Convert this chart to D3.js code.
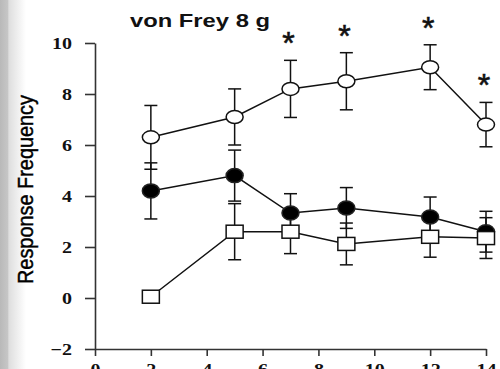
<!DOCTYPE html>
<html>
<head>
<meta charset="utf-8">
<script src="https://cdn.jsdelivr.net/npm/d3@7"></script>
<style>
  html, body { margin: 0; padding: 0; background: #fff; }
  svg { display: block; }
</style>
</head>
<body>
<svg id="chart" width="500" height="369"></svg>
<script>
// Days after treatment (x positions of the measurements)
const days = [2, 5, 7, 9, 12, 14];

// Open circles
const openMean = [6.3, 7.1, 8.2, 8.5, 9.05, 6.8];
const openErr  = [1.25, 1.1, 1.12, 1.12, 0.88, 0.87];

// Filled circles
const filledMean = [4.2, 4.8, 3.33, 3.53, 3.18, 2.6];
const filledErr  = [1.1, 1.0, 0.76, 0.8, 0.78, 0.8];

// Open squares
const squareMean = [0.05, 2.6, 2.6, 2.12, 2.4, 2.35];
const squareErr  = [0, 1.1, 0.86, 0.82, 0.8, 0.8];

// Significance markers (asterisk above open-circle series)
const significant = [false, false, true, true, true, true];

const xTicks = [0, 2, 4, 6, 8, 10, 12, 14];
const yTicks = [-2, 0, 2, 4, 6, 8, 10];

const titleText = "von Frey 8 g";
const yLabelText = "Response Frequency";

const svg = d3.select("#chart");

// Soft grey band on the left edge
const defs = svg.append("defs");
const grad = defs.append("linearGradient").attr("id", "edge").attr("x1", 0).attr("x2", 1).attr("y1", 0).attr("y2", 0);
grad.append("stop").attr("offset", 0).attr("stop-color", "#b9b9b9");
grad.append("stop").attr("offset", 0.3).attr("stop-color", "#c6c6c6");
grad.append("stop").attr("offset", 0.34).attr("stop-color", "#dedede");
grad.append("stop").attr("offset", 1).attr("stop-color", "#ffffff");
svg.append("rect").attr("x", 0).attr("y", 0).attr("width", 26).attr("height", 369).attr("fill", "url(#edge)");

const x = d3.scaleLinear().domain([0, 14]).range([95, 486]);
const y = d3.scaleLinear().domain([-2, 10]).range([349, 43]);

const axisColor = "#333";
const serif = "'Liberation Serif', 'Times New Roman', serif";
const sans = "'Liberation Sans', Arial, sans-serif";

// Y axis
const yAxis = svg.append("g")
  .attr("transform", `translate(${x(0)},0)`)
  .call(d3.axisLeft(y).tickValues(yTicks).tickSize(10).tickSizeOuter(0).tickFormat(d3.format("d")));
yAxis.select(".domain").attr("stroke", axisColor).attr("stroke-width", 1.6);
yAxis.selectAll(".tick line").attr("stroke", axisColor).attr("stroke-width", 1.6);
yAxis.selectAll(".tick text")
  .attr("x", -18.4)
  .attr("dy", "0.36em")
  .attr("transform", "scale(1.25,1)")
  .attr("font-family", serif).attr("font-weight", "bold").attr("font-size", 16).attr("fill", "#111");

// X axis (labels sit at the lower edge of the drawing)
const xAxis = svg.append("g")
  .attr("transform", `translate(0,${y(-2)})`)
  .call(d3.axisBottom(x).tickValues(xTicks).tickSize(7).tickSizeOuter(0).tickPadding(8).tickFormat(d3.format("d")));
xAxis.select(".domain").attr("stroke", axisColor).attr("stroke-width", 1.6);
xAxis.selectAll(".tick line").attr("stroke", axisColor).attr("stroke-width", 1.6);
xAxis.selectAll(".tick text")
  .attr("transform", "scale(1.25,1)")
  .attr("font-family", serif).attr("font-weight", "bold").attr("font-size", 16).attr("fill", "#111");

// Title
svg.append("text")
  .attr("x", 130).attr("y", 27)
  .attr("textLength", 140).attr("lengthAdjust", "spacingAndGlyphs")
  .attr("font-family", sans).attr("font-weight", "bold").attr("font-size", 18)
  .attr("fill", "#111")
  .text(titleText);

// Y axis label (slightly widened, medium-weight glyphs)
svg.append("text")
  .attr("transform", "translate(32.5,189.5) rotate(-90) scale(1,1.12)")
  .attr("text-anchor", "middle")
  .attr("textLength", 189).attr("lengthAdjust", "spacingAndGlyphs")
  .attr("font-family", sans).attr("font-size", 20)
  .attr("fill", "#000").attr("stroke", "#000").attr("stroke-width", 0.4)
  .text(yLabelText);

function series(means, errs) {
  return days.map((d, i) => ({ day: d, mean: means[i], err: errs[i] }));
}
const openData = series(openMean, openErr);
const filledData = series(filledMean, filledErr);
const squareData = series(squareMean, squareErr);

const line = d3.line().x(d => x(d.day)).y(d => y(d.mean));
const plot = svg.append("g");

[filledData, squareData, openData].forEach(data => {
  plot.append("path").datum(data).attr("d", line)
    .attr("fill", "none").attr("stroke", "#111").attr("stroke-width", 1.5);
});

// Error bars with caps
function errorBars(data) {
  const g = plot.append("g").attr("stroke", "#111").attr("stroke-width", 1.5);
  data.filter(d => d.err > 0).forEach(d => {
    const cx = x(d.day), top = y(d.mean + d.err), bot = y(d.mean - d.err);
    g.append("line").attr("x1", cx).attr("x2", cx).attr("y1", top).attr("y2", bot);
    g.append("line").attr("x1", cx - 6.5).attr("x2", cx + 6.5).attr("y1", top).attr("y2", top);
    g.append("line").attr("x1", cx - 6.5).attr("x2", cx + 6.5).attr("y1", bot).attr("y2", bot);
  });
}
errorBars(filledData);
errorBars(squareData);
errorBars(openData);

// Markers
plot.append("g").selectAll("ellipse").data(filledData).join("ellipse")
  .attr("cx", d => x(d.day)).attr("cy", d => y(d.mean))
  .attr("rx", 8.5).attr("ry", 7)
  .attr("fill", "#000").attr("stroke", "#222").attr("stroke-width", 1.5);

plot.append("g").selectAll("rect").data(squareData).join("rect")
  .attr("x", d => x(d.day) - 8.5).attr("y", d => y(d.mean) - 6.5)
  .attr("width", 17).attr("height", 13)
  .attr("fill", "#fff").attr("stroke", "#111").attr("stroke-width", 1.5);

plot.append("g").selectAll("ellipse").data(openData).join("ellipse")
  .attr("cx", d => x(d.day)).attr("cy", d => y(d.mean))
  .attr("rx", 8.5).attr("ry", 6.5)
  .attr("fill", "#fff").attr("stroke", "#111").attr("stroke-width", 1.5);

// Asterisks above the open-circle error bars
plot.append("g").selectAll("text").data(openData.filter((d, i) => significant[i])).join("text")
  .attr("x", d => x(d.day) - 2).attr("y", d => y(d.mean + d.err) - 6)
  .attr("text-anchor", "middle")
  .attr("font-family", sans).attr("font-size", 32).attr("fill", "#111")
  .attr("stroke", "#111").attr("stroke-width", 0.6)
  .text("*");
</script>
</body>
</html>
